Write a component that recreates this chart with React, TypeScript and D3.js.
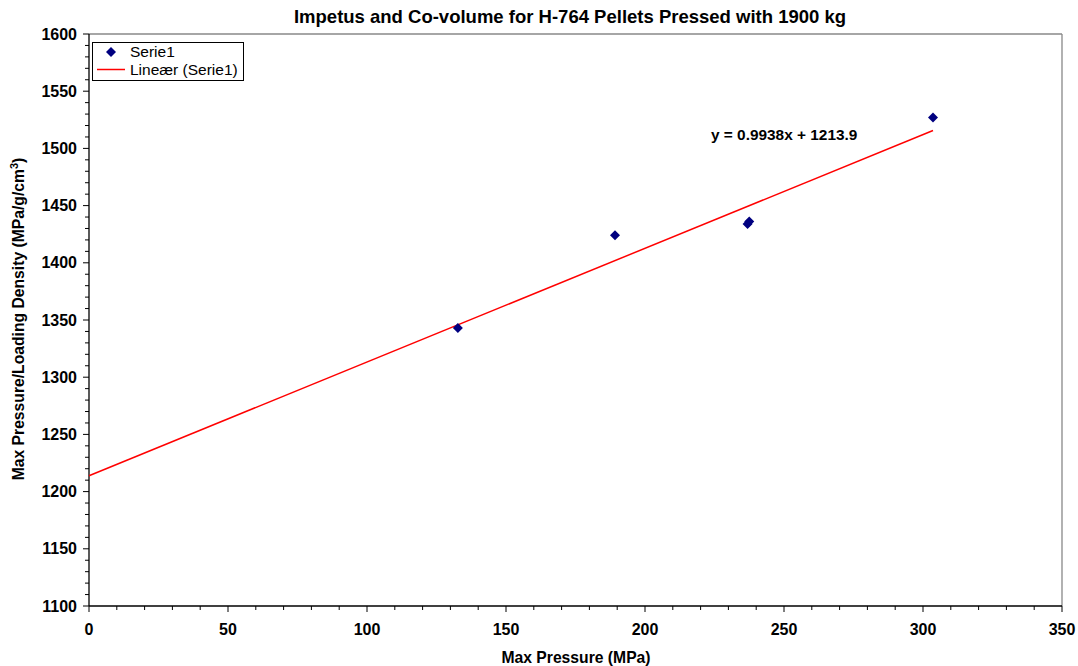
import React from "react";
import * as d3 from "d3";

const xValues = [132.7, 189.2, 236.9, 237.5, 303.6];
const yValues = [1343, 1424, 1434, 1436, 1527];
const slope = 0.9938;
const intercept = 1213.9;
const xTicks = [0, 50, 100, 150, 200, 250, 300, 350];
const yTicks = [1100, 1150, 1200, 1250, 1300, 1350, 1400, 1450, 1500, 1550, 1600];

const W = 1078, H = 666;
const L = 89, R = 1062, T = 34, B = 606;
const font = "'Liberation Sans', Arial, sans-serif";

export default function App() {
  const x = d3.scaleLinear().domain([0, 350]).range([L, R]);
  const y = d3.scaleLinear().domain([1100, 1600]).range([B, T]);
  const xMinor = d3.range(0, 351, 10);
  const yMinor = d3.range(1100, 1601, 10);
  const xMax = d3.max(xValues) as number;
  const line = d3.line<number>().x(d => x(d)).y(d => y(slope * d + intercept));
  const diamond = "M0,-5L5,0L0,5L-5,0Z";
  return (
    <svg width={W} height={H} style={{ position: "absolute", left: 0, top: 0 }} fontFamily={font}>
      <rect width={W} height={H} fill="#fff" />
      <text x={570} y={23} textAnchor="middle" fontSize={18.5} fontWeight="bold">
        Impetus and Co-volume for H-764 Pellets Pressed with 1900 kg
      </text>
      {/* plot border */}
      <line x1={L} x2={R} y1={T} y2={T} stroke="#888" strokeWidth={1.3} />
      <line x1={R} x2={R} y1={T} y2={B} stroke="#888" strokeWidth={1.3} />
      <line x1={L} x2={L} y1={T} y2={B} stroke="#000" strokeWidth={1.3} />
      <line x1={L} x2={R} y1={B} y2={B} stroke="#000" strokeWidth={1.3} />
      {xMinor.map(v => (
        <line key={"xm" + v} x1={x(v)} x2={x(v)} y1={B} y2={B + (v % 50 === 0 ? 6 : 4)} stroke="#000" />
      ))}
      {yMinor.map(v => (
        <line key={"ym" + v} x1={L - (v % 50 === 0 ? 6 : 4)} x2={L} y1={y(v)} y2={y(v)} stroke="#000" />
      ))}
      {xTicks.map(v => (
        <text key={"xt" + v} x={x(v)} y={B + 29} textAnchor="middle" fontSize={16} fontWeight="bold">{v}</text>
      ))}
      {yTicks.map(v => (
        <text key={"yt" + v} x={L - 12} y={y(v) + 5.5} textAnchor="end" fontSize={16} fontWeight="bold">{v}</text>
      ))}
      <text x={576} y={663} textAnchor="middle" fontSize={15.7} fontWeight="bold">Max Pressure (MPa)</text>
      <text transform={`translate(24,${(T + B) / 2 - 1}) rotate(-90)`} textAnchor="middle" fontSize={15.7} fontWeight="bold">
        Max Pressure/Loading Density (MPa/g/cm<tspan dy={-6} fontSize={11}>3</tspan><tspan dy={6}>)</tspan>
      </text>
      {/* trend line */}
      <path d={line([0, xMax]) as string} stroke="#ff0000" strokeWidth={1.5} fill="none" />
      {xValues.map((v, i) => (
        <path key={"p" + i} d={diamond} transform={`translate(${x(v)},${y(yValues[i])})`} fill="#000080" />
      ))}
      <text x={711} y={140} fontSize={15.4} fontWeight="bold">y = 0.9938x + 1213.9</text>
      {/* legend */}
      <rect x={92.5} y={42.5} width={151} height={38} fill="#fff" stroke="#000" strokeWidth={1} />
      <path d={diamond} transform="translate(111,52)" fill="#000080" />
      <text x={130} y={57} fontSize={15.5}>Serie1</text>
      <line x1={97} x2={125} y1={69.5} y2={69.5} stroke="#ff0000" strokeWidth={1.5} />
      <text x={130} y={75} fontSize={15.5}>Lineær (Serie1)</text>
    </svg>
  );
}
